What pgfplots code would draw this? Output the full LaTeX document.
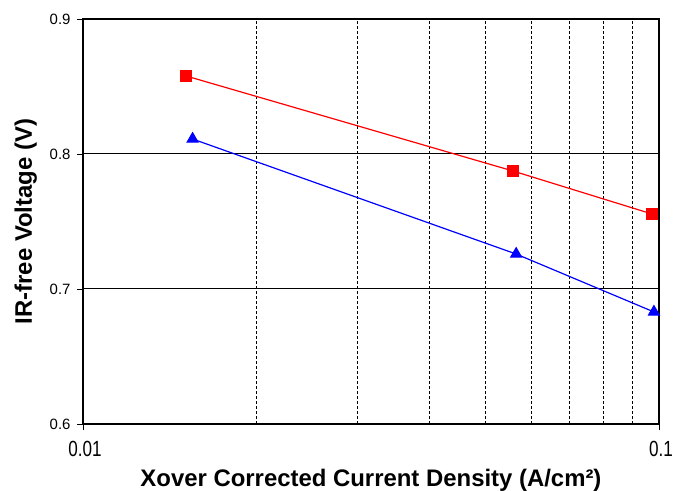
\documentclass[border=0pt]{standalone}
\usepackage{fontspec}
\setmainfont{Liberation Sans}
\newfontfamily\narrowfont[FakeStretch=0.78]{Liberation Sans}
\usepackage{pgfplots}
\pgfplotsset{compat=1.18}
\usetikzlibrary{calc}

\begin{document}
\begin{tikzpicture}
\begin{axis}[
  scale only axis,
  width=576bp, height=405bp,
  xmode=log,
  xmin=0.01, xmax=0.1,
  ymin=0.6, ymax=0.9,
  xtick={0.01,0.1}, xticklabels={0.01,0.1},
  minor xtick={0.02,0.03,0.04,0.05,0.06,0.07,0.08,0.09},
  ytick={0.6,0.7,0.8,0.9}, yticklabels={0.6,0.7,0.8,0.9},
  xtick pos=bottom, ytick pos=left,
  tick align=outside,
  major tick length=6bp, minor tick length=0pt,
  tick style={black, line width=0.8bp},
  xminorgrids, ymajorgrids,
  minor x grid style={black, line width=0.8bp, dash pattern=on 3bp off 2bp},
  major y grid style={black, line width=1bp},
  axis line style={line width=2.6bp},
  xticklabel style={font=\narrowfont\fontsize{22}{24}\selectfont, yshift=-8bp, xshift=2bp},
  yticklabel style={font=\fontsize{15}{17}\selectfont, xshift=-3bp},
  xlabel={\bfseries Xover Corrected Current Density (A/cm²)},
  ylabel={\bfseries IR-free Voltage (V)},
  xlabel style={font=\fontsize{24}{26}\selectfont, at={(rel axis cs:0.5,0)}, anchor=base, yshift=-62bp, inner sep=0pt},
  ylabel style={font=\fontsize{24}{26}\selectfont, at={(rel axis cs:0,0.5)}, anchor=base, yshift=51bp, inner sep=0pt},
]
\addplot[red, line width=1.2bp, mark=square*, mark size=5.5bp, mark options={solid, fill=red}]
  coordinates {(0.0151,0.8578) (0.0558,0.7874) (0.0972,0.7556)};
\addplot[blue, line width=1.2bp, mark=triangle*, mark size=6.2bp, mark options={solid, fill=blue}]
  coordinates {(0.0155,0.8111) (0.0565,0.7259) (0.0980,0.6830)};
\coordinate (ll) at (rel axis cs:0,0);
\coordinate (ur) at (rel axis cs:1,1);
\end{axis}
\pgfresetboundingbox
\path ($(ll)+(-83bp,-67bp)$) rectangle ($(ur)+(14bp,19bp)$);
\end{tikzpicture}
\end{document}
